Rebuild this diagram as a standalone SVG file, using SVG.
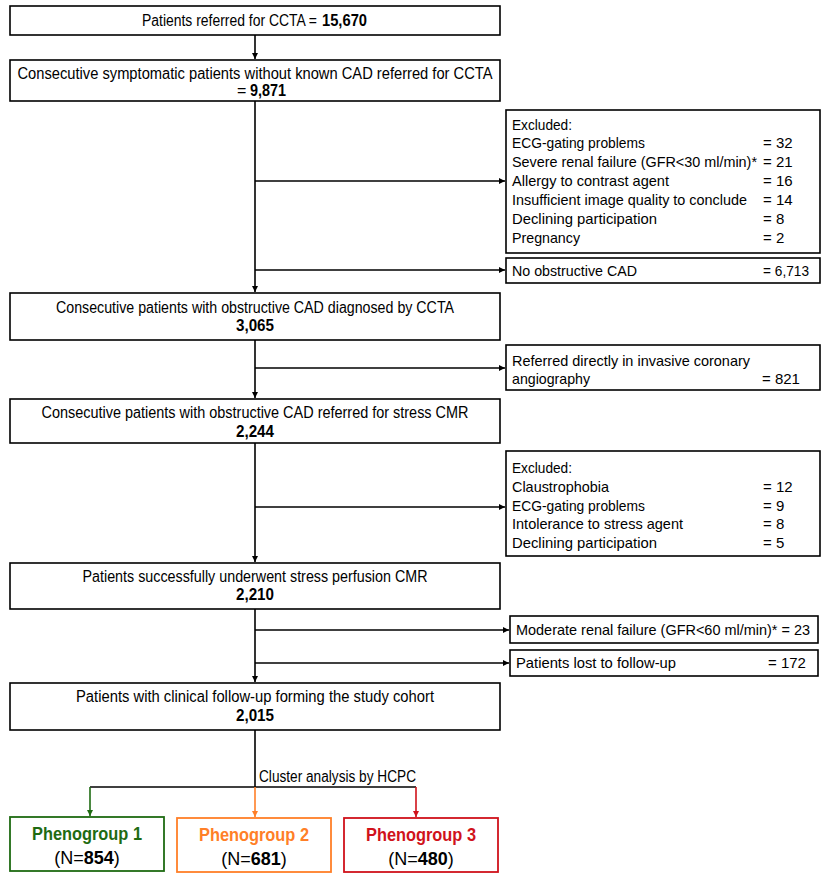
<svg xmlns="http://www.w3.org/2000/svg" width="829" height="882" viewBox="0 0 829 882">
<defs>
<style>
.box{fill:#fff;stroke:#000;stroke-width:1.6}
.t{font-family:"Liberation Sans",Arial,sans-serif;font-size:16px;fill:#000}
.s{font-family:"Liberation Sans",Arial,sans-serif;font-size:15px;fill:#000}
.c{text-anchor:middle}
.b{font-weight:bold}
.ln{fill:none;stroke:#000;stroke-width:1.6}
.ph{font-family:"Liberation Sans",Arial,sans-serif;font-size:19px;font-weight:bold;text-anchor:middle}
.pn{font-family:"Liberation Sans",Arial,sans-serif;font-size:18px;text-anchor:middle;fill:#000}
</style>
<marker id="ak" markerUnits="userSpaceOnUse" markerWidth="7" markerHeight="7" refX="6" refY="3" orient="auto"><path d="M0,0 L6,3 L0,6 z" fill="#000"/></marker>
<marker id="ag" markerUnits="userSpaceOnUse" markerWidth="7" markerHeight="7" refX="6" refY="3" orient="auto"><path d="M0,0 L6,3 L0,6 z" fill="#1e6b12"/></marker>
<marker id="ao" markerUnits="userSpaceOnUse" markerWidth="7" markerHeight="7" refX="6" refY="3" orient="auto"><path d="M0,0 L6,3 L0,6 z" fill="#ff7f27"/></marker>
<marker id="ar" markerUnits="userSpaceOnUse" markerWidth="7" markerHeight="7" refX="6" refY="3" orient="auto"><path d="M0,0 L6,3 L0,6 z" fill="#d0121b"/></marker>
</defs>
<rect width="829" height="882" fill="#fff"/>

<g id="connectors">
<path class="ln" d="M255,35 V59" marker-end="url(#ak)"/>
<path class="ln" d="M255,101 V292" marker-end="url(#ak)"/>
<path class="ln" d="M255,181 H505" marker-end="url(#ak)"/>
<path class="ln" d="M255,270 H505" marker-end="url(#ak)"/>
<path class="ln" d="M255,340 V398" marker-end="url(#ak)"/>
<path class="ln" d="M255,368 H505" marker-end="url(#ak)"/>
<path class="ln" d="M255,443 V562" marker-end="url(#ak)"/>
<path class="ln" d="M255,507 H505" marker-end="url(#ak)"/>
<path class="ln" d="M255,609 V682" marker-end="url(#ak)"/>
<path class="ln" d="M255,630 H509" marker-end="url(#ak)"/>
<path class="ln" d="M255,663 H509" marker-end="url(#ak)"/>
<path class="ln" d="M255,730 V787"/>
<path class="ln" d="M90,787 H416"/>
<path fill="none" stroke="#1e6b12" stroke-width="1.6" d="M90,787 V816" marker-end="url(#ag)"/>
<path fill="none" stroke="#ff7f27" stroke-width="1.6" d="M255,787 V817" marker-end="url(#ao)"/>
<path fill="none" stroke="#d0121b" stroke-width="1.6" d="M416,787 V817" marker-end="url(#ar)"/>
<text class="t" x="259" y="782" textLength="157" lengthAdjust="spacingAndGlyphs">Cluster analysis by HCPC</text>
</g>

<g id="n1">
<rect class="box" x="10" y="6" width="490" height="29"/>
<text class="t" x="142" y="26" textLength="175" lengthAdjust="spacingAndGlyphs">Patients referred for CCTA =</text>
<text class="t b" x="322" y="26" textLength="45" lengthAdjust="spacingAndGlyphs">15,670</text>
</g>

<g id="n2">
<rect class="box" x="10" y="60" width="490" height="41"/>
<text class="t c" x="255" y="79" textLength="475" lengthAdjust="spacingAndGlyphs">Consecutive symptomatic patients without known CAD referred for CCTA</text>
<text class="t" x="237" y="96">=</text>
<text class="t b" x="250" y="96" textLength="36" lengthAdjust="spacingAndGlyphs">9,871</text>
</g>

<g id="ex1">
<rect class="box" x="506" y="110" width="314" height="143"/>
<text class="s" x="512" y="130" textLength="60" lengthAdjust="spacingAndGlyphs">Excluded:</text>
<text class="s" x="512" y="148" textLength="133" lengthAdjust="spacingAndGlyphs">ECG-gating problems</text>
<text class="s" x="512" y="167" font-size="14" textLength="245" lengthAdjust="spacingAndGlyphs">Severe renal failure (GFR&lt;30 ml/min)*</text>
<text class="s" x="512" y="186" textLength="157" lengthAdjust="spacingAndGlyphs">Allergy to contrast agent</text>
<text class="s" x="512" y="205" textLength="235" lengthAdjust="spacingAndGlyphs">Insufficient image quality to conclude</text>
<text class="s" x="512" y="224" textLength="145" lengthAdjust="spacingAndGlyphs">Declining participation</text>
<text class="s" x="512" y="243" textLength="68" lengthAdjust="spacingAndGlyphs">Pregnancy</text>
<text class="s" x="763" y="148">= 32</text>
<text class="s" x="763" y="167">= 21</text>
<text class="s" x="763" y="186">= 16</text>
<text class="s" x="763" y="205">= 14</text>
<text class="s" x="763" y="224">= 8</text>
<text class="s" x="763" y="243">= 2</text>
</g>

<g id="ex2">
<rect class="box" x="506" y="258" width="314" height="25"/>
<text class="s" x="512" y="276" textLength="125" lengthAdjust="spacingAndGlyphs">No obstructive CAD</text>
<text class="s" x="763" y="276" textLength="46" lengthAdjust="spacingAndGlyphs">= 6,713</text>
</g>

<g id="n3">
<rect class="box" x="10" y="293" width="490" height="47"/>
<text class="t c" x="255" y="313" textLength="398" lengthAdjust="spacingAndGlyphs">Consecutive patients with obstructive CAD diagnosed by CCTA</text>
<text class="t c b" x="255" y="331" textLength="38" lengthAdjust="spacingAndGlyphs">3,065</text>
</g>

<g id="ex3">
<rect class="box" x="506" y="345" width="314" height="45"/>
<text class="s" x="512" y="366" textLength="238" lengthAdjust="spacingAndGlyphs">Referred directly in invasive coronary</text>
<text class="s" x="512" y="384" textLength="78" lengthAdjust="spacingAndGlyphs">angiography</text>
<text class="s" x="762" y="384">= 821</text>
</g>

<g id="n4">
<rect class="box" x="10" y="399" width="490" height="44"/>
<text class="t c" x="255" y="418" textLength="427" lengthAdjust="spacingAndGlyphs">Consecutive patients with obstructive CAD referred for stress CMR</text>
<text class="t c b" x="255" y="437" textLength="38" lengthAdjust="spacingAndGlyphs">2,244</text>
</g>

<g id="ex4">
<rect class="box" x="506" y="451" width="314" height="105"/>
<text class="s" x="512" y="473" textLength="60" lengthAdjust="spacingAndGlyphs">Excluded:</text>
<text class="s" x="512" y="492" textLength="97" lengthAdjust="spacingAndGlyphs">Claustrophobia</text>
<text class="s" x="512" y="511" textLength="133" lengthAdjust="spacingAndGlyphs">ECG-gating problems</text>
<text class="s" x="512" y="529" textLength="171" lengthAdjust="spacingAndGlyphs">Intolerance to stress agent</text>
<text class="s" x="512" y="548" textLength="145" lengthAdjust="spacingAndGlyphs">Declining participation</text>
<text class="s" x="763" y="492">= 12</text>
<text class="s" x="763" y="511">= 9</text>
<text class="s" x="763" y="529">= 8</text>
<text class="s" x="763" y="548">= 5</text>
</g>

<g id="n5">
<rect class="box" x="10" y="563" width="490" height="46"/>
<text class="t c" x="255" y="582" textLength="345" lengthAdjust="spacingAndGlyphs">Patients successfully underwent stress perfusion CMR</text>
<text class="t c b" x="255" y="600" textLength="38" lengthAdjust="spacingAndGlyphs">2,210</text>
</g>

<g id="ex5">
<rect class="box" x="510" y="616" width="308" height="27"/>
<text class="s" x="516" y="635" textLength="294" lengthAdjust="spacingAndGlyphs">Moderate renal failure (GFR&lt;60 ml/min)* = 23</text>
</g>

<g id="ex6">
<rect class="box" x="510" y="650" width="308" height="26"/>
<text class="s" x="516" y="668" textLength="160" lengthAdjust="spacingAndGlyphs">Patients lost to follow-up</text>
<text class="s" x="768" y="668">= 172</text>
</g>

<g id="n6">
<rect class="box" x="10" y="683" width="490" height="47"/>
<text class="t c" x="255" y="702" textLength="358" lengthAdjust="spacingAndGlyphs">Patients with clinical follow-up forming the study cohort</text>
<text class="t c b" x="255" y="721" textLength="38" lengthAdjust="spacingAndGlyphs">2,015</text>
</g>

<g id="p1">
<rect x="10" y="817" width="154" height="54" fill="#fff" stroke="#1e6b12" stroke-width="1.8"/>
<text class="ph" x="87" y="840" fill="#1e6b12" textLength="110" lengthAdjust="spacingAndGlyphs">Phenogroup 1</text>
<text class="pn" x="87" y="864">(N=<tspan font-weight="bold">854</tspan>)</text>
</g>

<g id="p2">
<rect x="177" y="818" width="154" height="54" fill="#fff" stroke="#ff7f27" stroke-width="1.8"/>
<text class="ph" x="254" y="841" fill="#ff7f27" textLength="110" lengthAdjust="spacingAndGlyphs">Phenogroup 2</text>
<text class="pn" x="254" y="865">(N=<tspan font-weight="bold">681</tspan>)</text>
</g>

<g id="p3">
<rect x="344" y="818" width="154" height="54" fill="#fff" stroke="#d0121b" stroke-width="1.8"/>
<text class="ph" x="421" y="841" fill="#d0121b" textLength="110" lengthAdjust="spacingAndGlyphs">Phenogroup 3</text>
<text class="pn" x="421" y="865">(N=<tspan font-weight="bold">480</tspan>)</text>
</g>
</svg>
